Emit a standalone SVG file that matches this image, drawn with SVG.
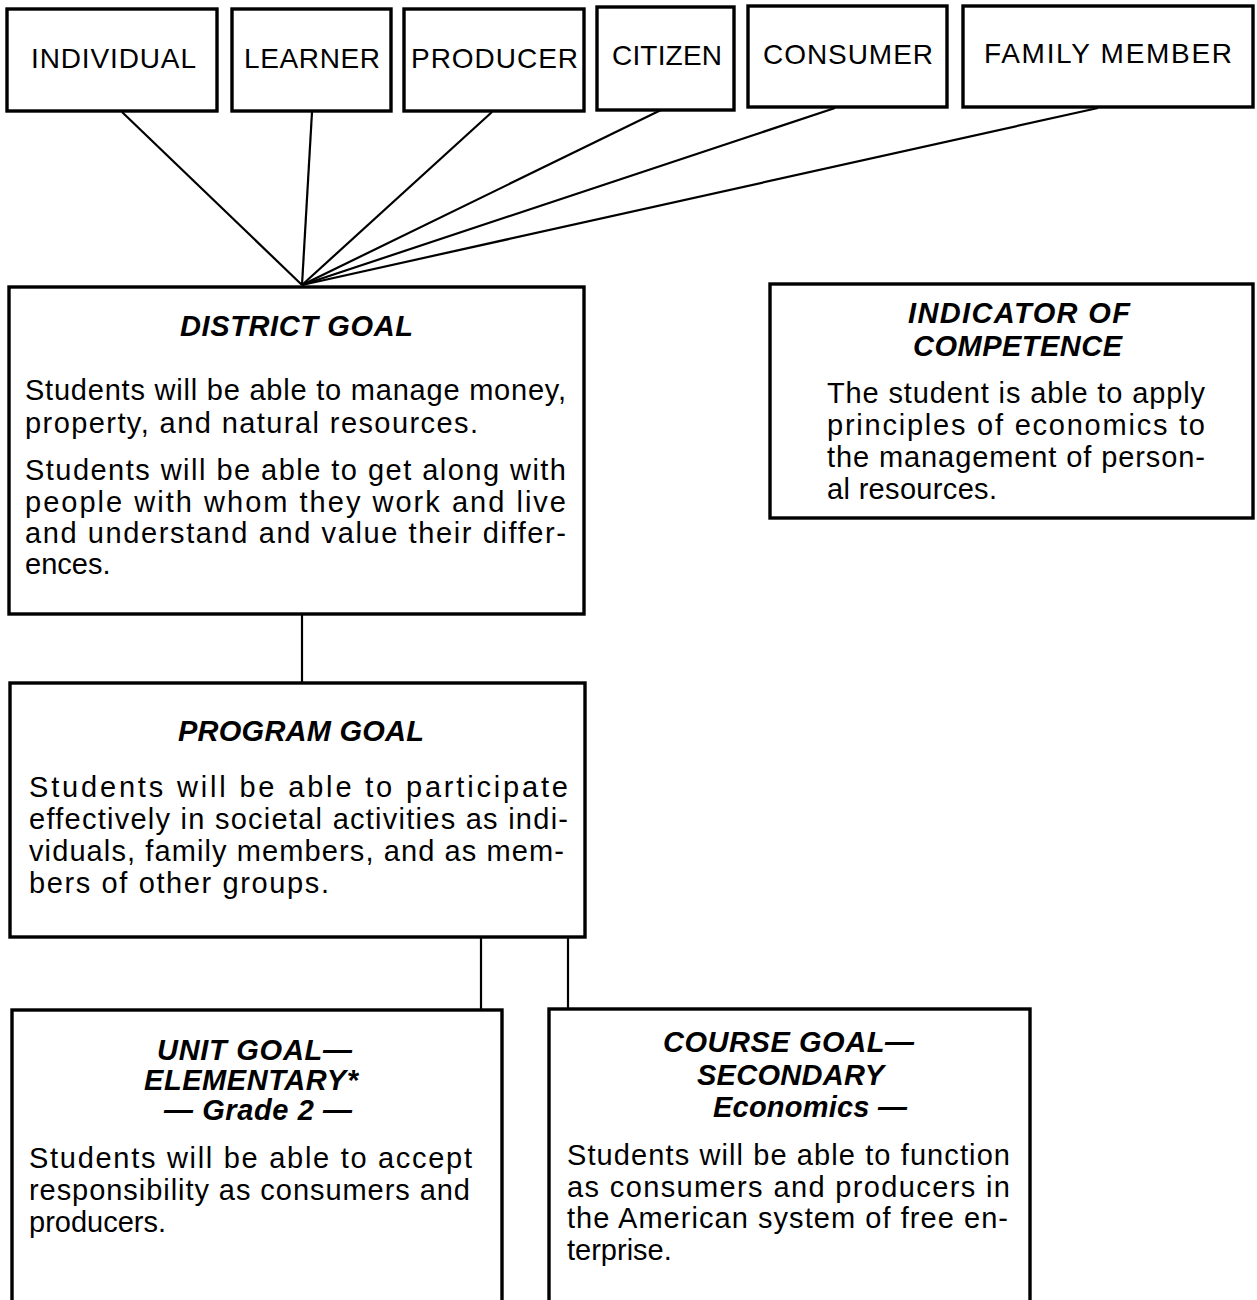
<svg xmlns="http://www.w3.org/2000/svg" width="1257" height="1300" viewBox="0 0 1257 1300">
<style>
.box{fill:none;stroke:#000;stroke-width:3.4}
.con{stroke:#000;stroke-width:2.2;fill:none}
.role{font-family:"Liberation Sans",Arial,sans-serif;font-size:28px;fill:#000}
.ttl{font-family:"Liberation Sans",Arial,sans-serif;font-size:29px;font-weight:bold;font-style:italic;fill:#000}
.body{font-family:"Liberation Sans",Arial,sans-serif;font-size:29px;fill:#000}
.nar{font-family:"Liberation Sans",Arial,sans-serif;font-size:29px;fill:#000}
.nttl{font-family:"Liberation Sans",Arial,sans-serif;font-size:29px;font-weight:bold;font-style:italic;fill:#000}
</style>
<rect width="1257" height="1300" fill="#fff"/>
<g id="connectors">
<line class="con" x1="122" y1="112" x2="302" y2="285"/>
<line class="con" x1="312" y1="112" x2="302" y2="285"/>
<line class="con" x1="492" y1="112" x2="302" y2="285"/>
<line class="con" x1="661" y1="110" x2="302" y2="285"/>
<line class="con" x1="835" y1="108" x2="302" y2="285"/>
<line class="con" x1="1098" y1="108" x2="302" y2="285"/>
<line class="con" x1="302" y1="614" x2="302" y2="683"/>
<line class="con" x1="481" y1="937" x2="481" y2="1010"/>
<line class="con" x1="568" y1="937" x2="568" y2="1009"/>
</g>
<g id="n-individual">
<rect class="box" x="7" y="9" width="210" height="102"/>
<text class="role" x="31" y="68" textLength="165">INDIVIDUAL</text>
</g>
<g id="n-learner">
<rect class="box" x="232" y="9" width="159" height="102"/>
<text class="role" x="244" y="68" textLength="136">LEARNER</text>
</g>
<g id="n-producer">
<rect class="box" x="404" y="9" width="180" height="102"/>
<text class="role" x="411" y="68" textLength="167">PRODUCER</text>
</g>
<g id="n-citizen">
<rect class="box" x="597" y="7" width="137" height="103"/>
<text class="role" x="612" y="65" textLength="110">CITIZEN</text>
</g>
<g id="n-consumer">
<rect class="box" x="748" y="6" width="199" height="101"/>
<text class="role" x="763" y="64" textLength="170">CONSUMER</text>
</g>
<g id="n-family">
<rect class="box" x="963" y="6" width="290" height="101"/>
<text class="role" x="984" y="63" textLength="248">FAMILY MEMBER</text>
</g>
<g id="n-district">
<rect class="box" x="9" y="287" width="575" height="327"/>
<text class="ttl" x="180" y="336" textLength="233">DISTRICT GOAL</text>
<text class="body" x="25" y="400" textLength="541">Students will be able to manage money,</text>
<text class="body" x="25" y="433" textLength="453">property, and natural resources.</text>
<text class="body" x="25" y="480" textLength="541">Students will be able to get along with</text>
<text class="body" x="25" y="512" textLength="541">people with whom they work and live</text>
<text class="body" x="25" y="543" textLength="541">and understand and value their differ-</text>
<text class="body" x="25" y="574">ences.</text>
</g>
<g id="n-indicator">
<rect class="box" x="770" y="284" width="483" height="234"/>
<text class="ttl" x="908" y="323" textLength="222">INDICATOR OF</text>
<text class="ttl" x="913" y="356" textLength="209">COMPETENCE</text>
<text class="body" x="827" y="403" textLength="378">The student is able to apply</text>
<text class="body" x="827" y="435" textLength="378">principles of economics to</text>
<text class="body" x="827" y="467" textLength="378">the management of person-</text>
<text class="body" x="827" y="499" textLength="170">al resources.</text>
</g>
<g id="n-program">
<rect class="box" x="10" y="683" width="575" height="254"/>
<text class="ttl" x="178" y="741" textLength="246">PROGRAM GOAL</text>
<text class="body" x="29" y="797" textLength="539">Students will be able to participate</text>
<text class="body" x="29" y="829" textLength="539">effectively in societal activities as indi-</text>
<text class="body" x="29" y="861" textLength="535">viduals, family members, and as mem-</text>
<text class="body" x="29" y="893" textLength="300">bers of other groups.</text>
</g>
<g id="n-unit">
<rect class="box" x="12" y="1010" width="490" height="320"/>
<text class="nttl" x="157" y="1060" textLength="195">UNIT GOAL—</text>
<text class="nttl" x="144" y="1090" textLength="214">ELEMENTARY*</text>
<text class="nttl" x="164" y="1120" textLength="188">— Grade 2 —</text>
<text class="nar" x="29" y="1168" textLength="443">Students will be able to accept</text>
<text class="nar" x="29" y="1200" textLength="441">responsibility as consumers and</text>
<text class="nar" x="29" y="1232">producers.</text>
</g>
<g id="n-course">
<rect class="box" x="549" y="1009" width="481" height="320"/>
<text class="nttl" x="663" y="1052" textLength="251">COURSE GOAL—</text>
<text class="nttl" x="697" y="1085" textLength="187">SECONDARY</text>
<text class="nttl" x="713" y="1117" textLength="194">Economics —</text>
<text class="nar" x="567" y="1165" textLength="443">Students will be able to function</text>
<text class="nar" x="567" y="1197" textLength="443">as consumers and producers in</text>
<text class="nar" x="567" y="1228" textLength="441">the American system of free en-</text>
<text class="nar" x="567" y="1260">terprise.</text>
</g>
</svg>
